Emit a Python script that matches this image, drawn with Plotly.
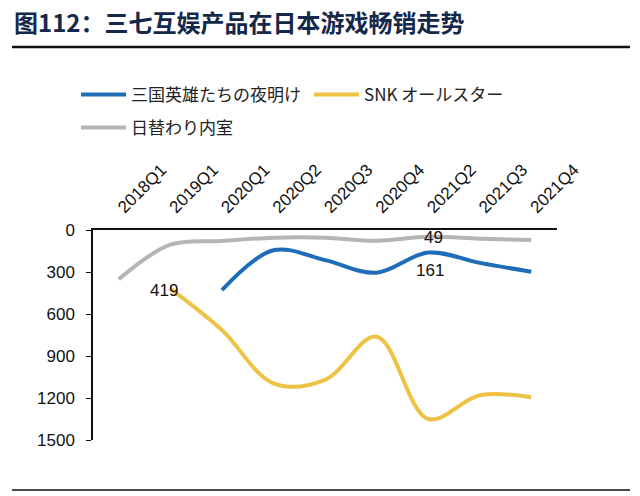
import plotly.graph_objects as go

categories = ["2018Q1", "2019Q1", "2020Q1", "2020Q2", "2020Q3", "2020Q4", "2021Q2", "2021Q3", "2021Q4"]
sanguo = [None, None, 430, 145, 215, 305, 161, 235, 298]
snk = [None, 419, 715, 1095, 1070, 762, 1350, 1180, 1195]
rigawari = [352, 105, 78, 55, 55, 76, 49, 62, 72]

# data labels shown in the chart: (series values, category index, label anchor)
labelled = [
    (sanguo, 6, "below"),
    (snk, 1, "left"),
    (rigawari, 6, "on"),
]

names = ["三国英雄たちの夜明け", "SNK オールスター", "日替わり内室"]
colors = ["#1F6DB8", "#EEC245", "#B5B5B5"]

W, H = 640, 496
fig = go.Figure()
fig.add_trace(go.Scatter(x=categories, y=sanguo, name=names[0], mode="lines",
                         line=dict(color=colors[0], width=4, shape="spline", smoothing=1.0),
                         legend="legend", hoverinfo="skip"))
fig.add_trace(go.Scatter(x=categories, y=snk, name=names[1], mode="lines",
                         line=dict(color=colors[1], width=4, shape="spline", smoothing=1.0),
                         legend="legend3", hoverinfo="skip"))
fig.add_trace(go.Scatter(x=categories, y=rigawari, name=names[2], mode="lines",
                         line=dict(color=colors[2], width=4, shape="spline", smoothing=1.0),
                         legend="legend2", hoverinfo="skip"))

label_font = dict(size=17, color="#111", family="Liberation Sans, Arial")
placement = {
    "below": dict(xanchor="center", yanchor="middle", xshift=2, yshift=-18),
    "left": dict(xanchor="right", yanchor="middle", xshift=10, yshift=-2),
    "on": dict(xanchor="center", yanchor="middle", xshift=5, yshift=-1),
}
for values, idx, where in labelled:
    fig.add_annotation(x=categories[idx], y=values[idx], text=str(values[idx]),
                       showarrow=False, font=label_font, **placement[where])

legend_font = dict(family="Noto Sans CJK JP, Noto Sans CJK SC", size=17, color="#222")


def legend_at(xpx, ypx):
    return dict(orientation="h", xref="container", yref="container",
                x=xpx / W, y=1 - ypx / H, xanchor="left", yanchor="middle",
                font=legend_font, bgcolor="rgba(0,0,0,0)", itemwidth=45)


fig.update_layout(
    width=W, height=H,
    margin=dict(l=93, r=83, t=230, b=56, autoexpand=False),
    paper_bgcolor="white", plot_bgcolor="white",
    showlegend=True,
    legend=legend_at(76, 95),
    legend3=legend_at(309, 95),
    legend2=legend_at(76, 128),
    xaxis=dict(type="category", categoryorder="array", categoryarray=categories,
               range=[-0.5, 8.5], side="top", tickangle=-45, showgrid=False,
               showline=True, linecolor="#111", linewidth=1.5, ticks="",
               ticklabelstandoff=5, automargin=False,
               tickfont=dict(family="Liberation Sans, Arial", size=17, color="#111"),
               zeroline=False),
    yaxis=dict(range=[1500, 0], tickvals=[0, 300, 600, 900, 1200, 1500],
               showgrid=False, showline=True, linecolor="#111", linewidth=1.5,
               ticks="outside", ticklen=5, tickcolor="#111", zeroline=False,
               ticklabelstandoff=8, automargin=False,
               tickfont=dict(family="Liberation Sans, Arial", size=17, color="#111")),
)

fig.add_annotation(text="<b>图112：三七互娱产品在日本游戏畅销走势</b>",
                   xref="paper", yref="paper",
                   x=-81 / 464, y=1 + (230 - 21) / 210, xanchor="left", yanchor="middle",
                   showarrow=False,
                   font=dict(family="Noto Sans CJK SC", size=24, color="#14284A"))
fig.add_shape(type="line", xref="paper", yref="paper",
              x0=-81 / 464, x1=(630 - 93) / 464, y0=1 + (230 - 47) / 210, y1=1 + (230 - 47) / 210,
              line=dict(color="#111", width=2.5))
fig.add_shape(type="line", xref="paper", yref="paper",
              x0=-81 / 464, x1=(630 - 93) / 464, y0=-(490 - 440) / 210, y1=-(490 - 440) / 210,
              line=dict(color="#111", width=1.5))

fig.write_html("out.html", config={"displayModeBar": False},
               post_script="document.body.style.margin='0';")
